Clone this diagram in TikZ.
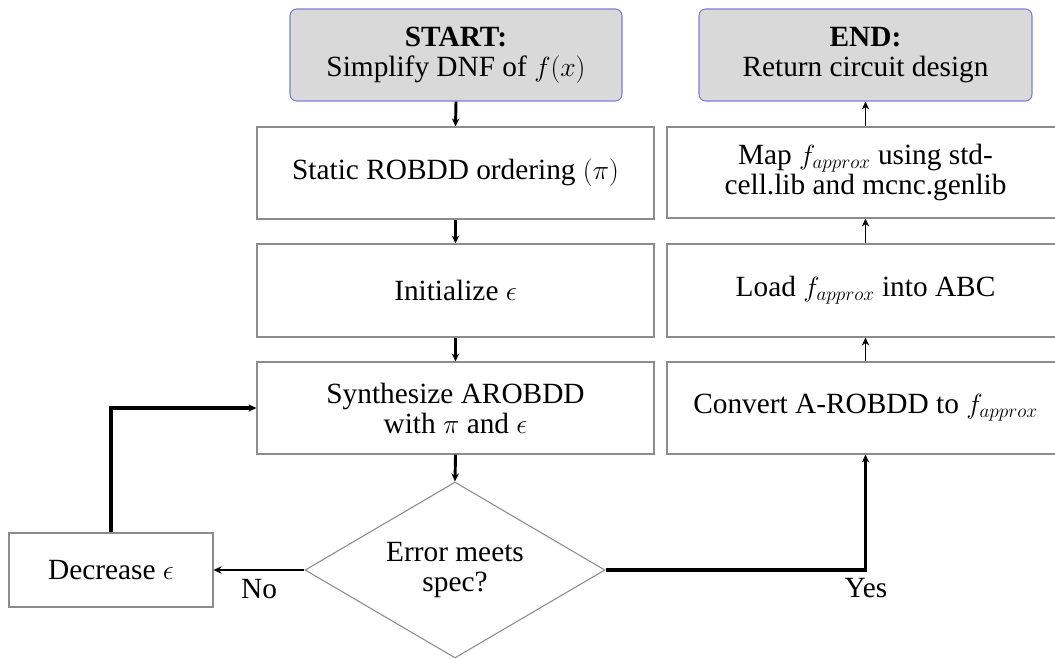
\documentclass[tikz,border=0pt]{standalone}
\usepackage{fontspec}
\setmainfont{Liberation Serif}
\usetikzlibrary{shapes.geometric,arrows.meta}
\definecolor{boxgray}{RGB}{140,140,140}
\definecolor{termfill}{RGB}{217,217,217}
\definecolor{termborder}{RGB}{125,125,215}
\begin{document}
\begin{tikzpicture}[x=0.75pt,y=-0.75pt,
  every node/.style={font=\fontsize{22}{22.5}\selectfont, align=center},
  procbox/.style={draw=boxgray, line width=0.8pt, fill=white, inner sep=0pt},
  termbox/.style={draw=termborder, line width=0.8pt, fill=termfill, rounded corners=5pt, inner sep=0pt},
  decbox/.style={diamond, draw=boxgray, line width=0.8pt, fill=white, inner sep=-30pt},
  arr/.style={-{Stealth[length=6pt,width=5.5pt]}},
  thickarr/.style={arr, line width=2.2pt},
  thinarr/.style={arr, line width=1.4pt},
  lbl/.style={font=\fontsize{22}{22}\selectfont}
]
\useasboundingbox (0,0) rectangle (1055,658);
\fill[white] (0,0) rectangle (1055,658);

% terminals
\node[termbox, minimum width=249pt, minimum height=69pt] (start) at (456,55)
  {\textbf{START:}\\Simplify DNF of $f(x)$};
\node[termbox, minimum width=249.75pt, minimum height=69pt] (end) at (865.5,55)
  {\textbf{END:}\\Return circuit design};

% left column
\node[procbox, minimum width=297.75pt, minimum height=69pt] (static) at (455.5,173)
  {Static ROBDD ordering $(\pi)$};
\node[procbox, minimum width=297.75pt, minimum height=69.75pt] (init) at (455.5,290.5)
  {Initialize $\epsilon$};
\node[procbox, minimum width=297.75pt, minimum height=69pt] (synth) at (455.5,408)
  {Synthesize AROBDD\\with $\pi$ and $\epsilon$};

% right column
\node[procbox, minimum width=297.75pt, minimum height=68.25pt] (map) at (865.5,172.5)
  {Map $f_{approx}$ using std-\\cell.lib and mcnc.genlib};
\node[procbox, minimum width=297.75pt, minimum height=69.75pt] (load) at (865.5,290.5)
  {Load $f_{approx}$ into ABC};
\node[procbox, minimum width=297.75pt, minimum height=69pt] (conv) at (865.5,408)
  {Convert A-ROBDD to $f_{approx}$};

% decision and decrease
\node[decbox, minimum width=225pt, minimum height=132pt] (dec) at (455,570)
  {Error meets\\spec?};
\node[procbox, minimum width=153pt, minimum height=55.5pt] (decr) at (111,570)
  {Decrease $\epsilon$};

% connectors
\draw[thickarr] (start.south) -- (static.north);
\draw[thickarr] (static.south) -- (init.north);
\draw[thickarr] (init.south) -- (synth.north);
\draw[thickarr] (synth.south) -- (dec.north);
\draw[thinarr] (conv.north) -- (load.south);
\draw[thinarr] (load.north) -- (map.south);
\draw[thinarr] (map.north) -- (end.south);
\draw[arr, line width=2.4pt] (dec.east) -| (conv.south);
\draw[arr, line width=1.6pt] (dec.west) -- (decr.east);
\draw[arr, line width=3pt] (decr.north) |- (synth.west);

% labels
\node[lbl] (nolbl) at (259,589) {No};
\node[lbl] (yeslbl) at (866,588) {Yes};
\end{tikzpicture}
\end{document}
